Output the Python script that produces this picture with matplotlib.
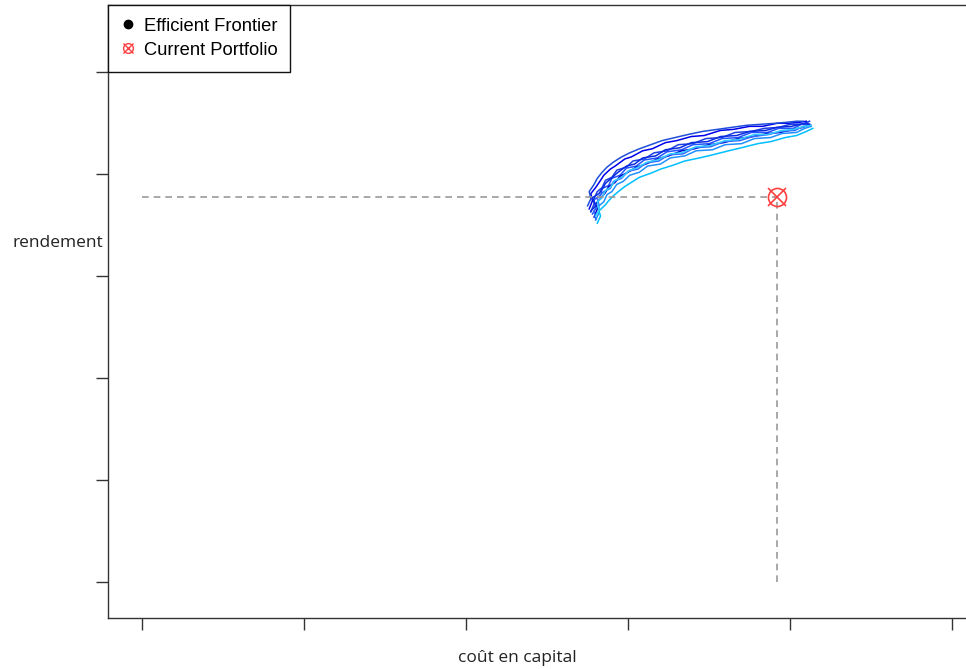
import matplotlib
matplotlib.use('Agg')
import matplotlib.pyplot as plt
from matplotlib.lines import Line2D

# simulated efficient frontiers (cout en capital, rendement)
frontiers = [
    ([2.76, 2.78, 2.77, 2.80, 2.83, 2.85, 2.89, 2.92, 2.98, 3.02, 3.09, 3.15, 3.23, 3.30, 3.39, 3.47, 3.57, 3.65, 3.75, 3.83, 3.92, 3.99, 4.06, 4.10],
     [3.66, 3.74, 3.81, 3.87, 3.94, 3.99, 4.05, 4.08, 4.15, 4.17, 4.23, 4.25, 4.31, 4.33, 4.37, 4.38, 4.43, 4.44, 4.47, 4.47, 4.50, 4.50, 4.51, 4.52]),
    ([2.77, 2.79, 2.79, 2.81, 2.84, 2.86, 2.90, 2.93, 2.99, 3.03, 3.10, 3.16, 3.24, 3.31, 3.40, 3.48, 3.58, 3.66, 3.76, 3.84, 3.93, 4.00, 4.07, 4.12],
     [3.63, 3.71, 3.76, 3.83, 3.87, 3.94, 3.97, 4.04, 4.07, 4.13, 4.15, 4.21, 4.23, 4.29, 4.30, 4.35, 4.36, 4.41, 4.42, 4.45, 4.46, 4.49, 4.49, 4.52]),
    ([2.78, 2.80, 2.79, 2.83, 2.84, 2.88, 2.90, 2.95, 2.99, 3.05, 3.10, 3.18, 3.24, 3.33, 3.40, 3.50, 3.58, 3.68, 3.76, 3.86, 3.93, 4.02, 4.07, 4.12],
     [3.61, 3.67, 3.75, 3.79, 3.86, 3.89, 3.96, 3.99, 4.06, 4.08, 4.14, 4.16, 4.22, 4.24, 4.29, 4.30, 4.35, 4.36, 4.41, 4.41, 4.45, 4.45, 4.49, 4.49]),
    ([2.79, 2.81, 2.80, 2.84, 2.86, 2.88, 2.92, 2.95, 3.00, 3.05, 3.11, 3.18, 3.25, 3.33, 3.41, 3.50, 3.59, 3.68, 3.77, 3.86, 3.94, 4.02, 4.08, 4.12],
     [3.58, 3.66, 3.71, 3.78, 3.82, 3.88, 3.92, 3.98, 4.02, 4.07, 4.10, 4.15, 4.18, 4.23, 4.25, 4.29, 4.31, 4.35, 4.37, 4.40, 4.41, 4.44, 4.46, 4.49]),
    ([2.80, 2.82, 2.82, 2.85, 2.87, 2.90, 2.93, 2.97, 3.01, 3.07, 3.12, 3.20, 3.26, 3.35, 3.42, 3.52, 3.60, 3.70, 3.78, 3.88, 3.95, 4.04, 4.09, 4.13],
     [3.55, 3.62, 3.69, 3.73, 3.80, 3.83, 3.90, 3.93, 3.99, 4.02, 4.08, 4.10, 4.16, 4.18, 4.23, 4.24, 4.29, 4.30, 4.35, 4.36, 4.40, 4.41, 4.45, 4.47]),
    ([2.81, 2.83, 2.82, 2.86, 2.88, 2.91, 2.94, 2.98, 3.03, 3.07, 3.14, 3.20, 3.28, 3.35, 3.44, 3.52, 3.62, 3.70, 3.80, 3.88, 3.97, 4.04, 4.10, 4.14],
     [3.52, 3.59, 3.64, 3.70, 3.74, 3.79, 3.83, 3.88, 3.93, 3.97, 4.01, 4.05, 4.09, 4.13, 4.16, 4.19, 4.23, 4.26, 4.30, 4.32, 4.36, 4.38, 4.42, 4.45]),
    ([2.75, 2.77, 2.76, 2.79, 2.81, 2.84, 2.87, 2.91, 2.96, 3.01, 3.07, 3.14, 3.21, 3.29, 3.37, 3.46, 3.55, 3.64, 3.73, 3.82, 3.91, 3.98, 4.04, 4.08],
     [3.69, 3.76, 3.83, 3.90, 3.96, 4.02, 4.07, 4.12, 4.17, 4.21, 4.25, 4.29, 4.33, 4.36, 4.39, 4.42, 4.44, 4.46, 4.48, 4.49, 4.50, 4.51, 4.52, 4.52]),
    ([2.80, 2.79, 2.82, 2.81, 2.85, 2.89, 2.91, 2.96, 3.00, 3.06, 3.11, 3.19, 3.25, 3.34, 3.41, 3.51, 3.59, 3.69, 3.77, 3.87, 3.94, 4.03, 4.08, 4.13],
     [3.56, 3.64, 3.70, 3.77, 3.83, 3.86, 3.93, 3.96, 4.03, 4.05, 4.11, 4.13, 4.19, 4.20, 4.26, 4.27, 4.32, 4.33, 4.37, 4.39, 4.42, 4.43, 4.47, 4.48]),
    ([2.77, 2.80, 2.78, 2.82, 2.85, 2.86, 2.91, 2.93, 2.99, 3.04, 3.09, 3.17, 3.23, 3.32, 3.39, 3.49, 3.57, 3.67, 3.75, 3.85, 3.92, 4.01, 4.06, 4.11],
     [3.64, 3.69, 3.77, 3.81, 3.88, 3.91, 3.98, 4.01, 4.08, 4.10, 4.16, 4.18, 4.24, 4.26, 4.31, 4.32, 4.37, 4.38, 4.42, 4.43, 4.46, 4.47, 4.49, 4.50]),
    ([2.80, 2.82, 2.81, 2.84, 2.86, 2.89, 2.92, 2.96, 3.01, 3.05, 3.12, 3.18, 3.26, 3.33, 3.42, 3.50, 3.60, 3.68, 3.78, 3.86, 3.95, 4.02, 4.09, 4.13],
     [3.59, 3.65, 3.73, 3.77, 3.84, 3.87, 3.94, 3.97, 4.04, 4.06, 4.12, 4.14, 4.20, 4.21, 4.27, 4.28, 4.33, 4.34, 4.39, 4.39, 4.43, 4.44, 4.47, 4.48]),
]
frontier_colors = ['#0000EE', '#1C3FE0', '#2255FF', '#0000CD', '#1E90FF',
                   '#00BFFF', '#1F4FD8', '#3366FF', '#0A2BE0', '#33CCFF']

current_cost = 3.92
current_return = 3.775

fig = plt.figure(figsize=(9.66, 6.69), dpi=100)
ax = fig.add_axes([0.1118, 0.0762, 0.8923, 0.9163])

for (xs, ys), c in zip(frontiers, frontier_colors):
    ax.plot(xs, ys, color=c, lw=1.1)

# guide lines to the current portfolio
ax.plot([0, current_cost], [current_return, current_return],
        color='#999999', lw=1.2, ls=(0, (4, 3)))
ax.plot([current_cost, current_cost], [0, current_return],
        color='#999999', lw=1.2, ls=(0, (4, 3)))
ax.plot(current_cost, current_return, 'o', mfc='none', mec='#ff4040', ms=13, mew=1.2)
ax.plot(current_cost, current_return, 'x', color='#ff4040', ms=13, mew=1.2)

ax.set_xlim(-0.21, 5.11)
ax.set_ylim(-0.353, 5.66)
ax.set_xticks([0, 1, 2, 3, 4, 5])
ax.set_yticks([0, 1, 2, 3, 4, 5])
ax.set_xticklabels([])
ax.set_yticklabels([])
ax.tick_params(length=8.6, width=1, color='#333333', direction='out')
for s in ax.spines.values():
    s.set_color('#333333')
    s.set_linewidth(1)

ax.set_xlabel('coût en capital', family='Open Sans', fontsize=12.5, color='#222222')
ax.xaxis.set_label_coords(0.4745, -0.052)
ax.set_ylabel('rendement', family='Open Sans', fontsize=12.5, color='#222222',
              rotation=0, ha='right', va='center')
ax.yaxis.set_label_coords(-0.006, 0.612)

h_front = Line2D([], [], ls='none', marker='o', color='black', ms=6)
h_circ = Line2D([], [], ls='none', marker='o', mfc='none', mec='#ff4040', ms=7, mew=1)
h_x = Line2D([], [], ls='none', marker='x', color='#ff4040', ms=7, mew=1)
leg = ax.legend([h_front, (h_circ, h_x)], ['Efficient Frontier', 'Current Portfolio'],
                loc='upper left', borderaxespad=0, fancybox=False,
                prop={'family': 'Liberation Sans', 'size': 13.2},
                handlelength=0.8, handletextpad=0.45, labelspacing=0.38,
                borderpad=0.7, framealpha=1)
leg.get_frame().set_edgecolor('#111111')
leg.get_frame().set_linewidth(1)

fig.savefig('out.png', dpi=100)
